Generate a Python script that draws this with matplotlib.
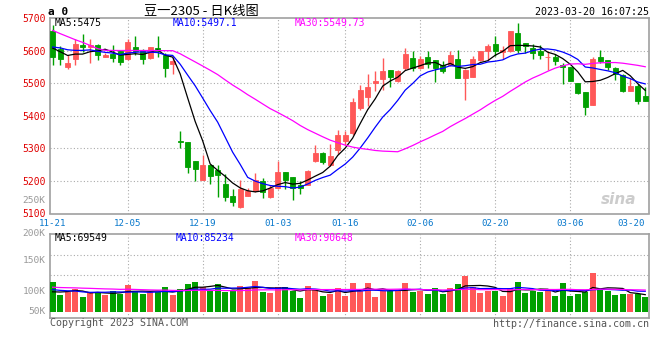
import matplotlib
matplotlib.use('Agg')
import matplotlib.pyplot as plt
import pandas as pd

# daily K line, 豆一2305, 11-21 .. 03-20
tick_dates = ['11-21', '12-05', '12-19', '01-03', '01-16', '02-06', '02-20', '03-06', '03-20']
tick_idx = [0, 10, 20, 30, 39, 49, 59, 69, 79]

open_ = [5661, 5605, 5550, 5575, 5616, 5611, 5616, 5581, 5589, 5598,
         5575, 5611, 5598, 5577, 5608, 5585, 5560, 5323, 5320, 5260,
         5204, 5250, 5235, 5192, 5155, 5119, 5155, 5170, 5199, 5150,
         5178, 5227, 5211, 5188, 5188, 5260, 5286, 5248, 5296, 5323,
         5347, 5424, 5458, 5501, 5513, 5539, 5506, 5547, 5577, 5547,
         5580, 5570, 5557, 5557, 5574, 5516, 5519, 5572, 5598, 5620,
         5595, 5598, 5654, 5623, 5608, 5600, 5579, 5579, 5555, 5550,
         5500, 5473, 5432, 5579, 5570, 5547, 5524, 5477, 5490, 5460]
close = [5579, 5574, 5562, 5621, 5610, 5616, 5587, 5587, 5577, 5564,
         5626, 5598, 5575, 5611, 5598, 5547, 5569, 5318, 5242, 5237,
         5250, 5214, 5219, 5151, 5134, 5175, 5170, 5202, 5166, 5178,
         5227, 5202, 5178, 5178, 5229, 5286, 5258, 5275, 5342, 5342,
         5441, 5480, 5488, 5508, 5538, 5519, 5538, 5590, 5547, 5574,
         5560, 5547, 5536, 5587, 5516, 5541, 5574, 5598, 5615, 5600,
         5601, 5661, 5603, 5613, 5593, 5585, 5581, 5569, 5549, 5506,
         5470, 5427, 5574, 5567, 5550, 5528, 5477, 5492, 5446, 5446]
high = [5677, 5613, 5585, 5637, 5651, 5637, 5620, 5592, 5616, 5603,
        5637, 5644, 5606, 5611, 5644, 5593, 5579, 5352, 5320, 5260,
        5281, 5250, 5250, 5222, 5175, 5202, 5178, 5224, 5209, 5188,
        5262, 5227, 5211, 5199, 5235, 5311, 5288, 5313, 5355, 5354,
        5454, 5495, 5528, 5536, 5577, 5539, 5541, 5608, 5600, 5582,
        5598, 5570, 5567, 5600, 5603, 5544, 5584, 5600, 5620, 5644,
        5613, 5661, 5685, 5623, 5620, 5616, 5598, 5590, 5562, 5550,
        5500, 5473, 5580, 5601, 5570, 5549, 5528, 5516, 5497, 5487]
low = [5557, 5557, 5545, 5557, 5596, 5562, 5572, 5579, 5565, 5555,
       5572, 5587, 5560, 5575, 5579, 5519, 5528, 5301, 5224, 5199,
       5202, 5192, 5151, 5137, 5124, 5117, 5153, 5166, 5148, 5148,
       5176, 5176, 5142, 5161, 5186, 5258, 5253, 5245, 5283, 5311,
       5342, 5419, 5429, 5477, 5480, 5487, 5504, 5541, 5536, 5545,
       5547, 5503, 5531, 5554, 5516, 5449, 5518, 5569, 5569, 5582,
       5575, 5596, 5593, 5593, 5575, 5575, 5541, 5555, 5498, 5506,
       5467, 5403, 5432, 5562, 5541, 5511, 5472, 5477, 5436, 5446]
# volume in thousands of lots
volume = [122, 70, 80, 95, 63, 83, 80, 69, 87, 73,
          112, 83, 73, 83, 80, 104, 70, 95, 116, 125,
          104, 87, 116, 80, 87, 108, 98, 129, 83, 78,
          104, 104, 87, 57, 108, 95, 66, 73, 99, 66,
          120, 87, 120, 62, 87, 87, 87, 120, 80, 87,
          74, 99, 74, 99, 116, 150, 104, 78, 87, 87,
          66, 99, 125, 78, 87, 83, 95, 66, 120, 66,
          74, 83, 162, 91, 87, 70, 74, 74, 74, 62]

# days before 11-21 (off the chart), guessed from where the MA lines start
prior_close = [5870, 5840, 5900, 5860, 5900, 5880, 5740, 5590, 5570, 5620,
               5600, 5580, 5610, 5600, 5560, 5570, 5600, 5620, 5610, 5630,
               5600, 5620, 5640, 5610, 5600, 5630, 5620, 5600, 5610]
prior_vol = [110, 104, 112, 100, 108, 115, 102, 106, 111, 98,
             109, 104, 113, 101, 107, 105, 110, 103, 108, 114,
             102, 98, 104, 100, 102, 75, 70, 72, 75]

RED = '#ff5858'
GREEN = '#00a000'
GRID = '#aaaaaa'
MONO = 'DejaVu Sans Mono'

n = len(close)
x = list(range(n))
np_ = len(prior_close)
cs = pd.Series(prior_close + close)
vs = pd.Series(prior_vol + volume)
ma = {k: cs.rolling(k).mean().iloc[np_:].values for k in (5, 10, 30)}
vma = {k: vs.rolling(k).mean().iloc[np_:].values for k in (5, 10, 30)}

up = [c >= o for o, c in zip(open_, close)]
colors = [RED if u else GREEN for u in up]

fig = plt.figure(figsize=(6.6, 3.6), dpi=100)
ax = fig.add_axes([50 / 660, 146.5 / 360, 599 / 660, 195.5 / 360])
axv = fig.add_axes([50 / 660, 42 / 360, 599 / 660, 84 / 360])

# candles
ax.vlines(x, low, high, colors=colors, linewidth=1, zorder=3)
body_lo = [min(o, c) for o, c in zip(open_, close)]
body_h = [abs(c - o) for o, c in zip(open_, close)]
ax.bar(x, body_h, bottom=body_lo, width=0.7, color=colors, edgecolor=colors,
       linewidth=0.6, zorder=4)
ax.plot(x, ma[5], color='black', lw=0.9, zorder=5)
ax.plot(x, ma[10], color='#0000ff', lw=0.9, zorder=5)
ax.plot(x, ma[30], color='#ff00ff', lw=0.9, zorder=5)

ax.set_xlim(-0.35, 79.5)
ax.set_ylim(5100, 5700)
ax.set_yticks([5100, 5200, 5300, 5400, 5500, 5600, 5700])
ax.set_yticklabels(['5100', '5200', '5300', '5400', '5500', '5600', '5700'],
                   color='#e00000', fontsize=7, family=MONO)
for yv in [5200, 5300, 5400, 5500, 5600]:
    ax.axhline(yv, color=GRID, lw=0.8, ls=(0, (1, 2)), zorder=1)
ax.set_xticks(tick_idx)
ax.set_xticklabels(tick_dates, color='#0878cc', fontsize=6.6, family=MONO)
ax.get_xticklabels()[-1].set_ha('right')
ax.tick_params(axis='x', length=0, pad=3.8)
ax.tick_params(axis='y', length=0, pad=3)

axv.bar(x, volume, width=0.8, color=colors, zorder=3)
axv.plot(x, vma[5], color='black', lw=0.9, zorder=4)
axv.plot(x, vma[10], color='#0000ff', lw=0.9, zorder=4)
axv.plot(x, vma[30], color='#ff00ff', lw=0.9, zorder=4)
axv.set_xlim(-0.35, 79.5)
axv.set_ylim(-27, 325)
axv.set_xticks([])
axv.set_yticks([])
for yv in [152, 236]:
    axv.axhline(yv, color=GRID, lw=0.8, ls=(0, (1, 2)), zorder=1)

for a in (ax, axv):
    for xi in tick_idx[1:-1]:
        a.axvline(xi, color=GRID, lw=0.8, ls=(0, (1, 2)), zorder=1)
    for s in a.spines.values():
        s.set_color('#a0a0a0')
        s.set_linewidth(1.2)

# volume axis labels as drawn by sina
for lab, yf in [('200K', 1.0), ('150K', 0.679), ('100K', 0.321), ('50K', 0.083)]:
    axv.text(-0.007, yf, lab, transform=axv.transAxes, ha='right', va='center',
             color='#999999', fontsize=6.8, family=MONO)
ax.text(-0.007, 0.069, '250K', transform=ax.transAxes, ha='right', va='center',
        color='#999999', fontsize=6.8, family=MONO)

# MA captions
ax.text(0.008, 0.974, 'MA5:5475', transform=ax.transAxes, va='center',
        color='black', fontsize=7, family=MONO)
ax.text(0.205, 0.974, 'MA10:5497.1', transform=ax.transAxes, va='center',
        color='#0000ff', fontsize=7, family=MONO)
ax.text(0.409, 0.974, 'MA30:5549.73', transform=ax.transAxes, va='center',
        color='#ff00ff', fontsize=7, family=MONO)
axv.text(0.008, 0.949, 'MA5:69549', transform=axv.transAxes, va='center',
         color='black', fontsize=7, family=MONO)
axv.text(0.209, 0.949, 'MA10:85234', transform=axv.transAxes, va='center',
         color='#0000ff', fontsize=7, family=MONO)
axv.text(0.409, 0.949, 'MA30:90648', transform=axv.transAxes, va='center',
         color='#ff00ff', fontsize=7, family=MONO)

ax.text(0.95, 0.07, 'sina', transform=ax.transAxes, ha='center', va='center',
        color='#cccccc', fontsize=11, weight='bold', style='italic', zorder=2)

# header / footer
fig.text(48 / 660, 1 - 12 / 360, 'a 0', ha='left', va='center',
         fontsize=8, weight='bold', family=MONO)
fig.text(201 / 660, 1 - 12 / 360, '豆一2305 - 日K线图', ha='center', va='center',
         fontsize=9.5, family=['Noto Sans CJK SC', 'DejaVu Sans'])
fig.text(649 / 660, 1 - 12 / 360, '2023-03-20 16:07:25', ha='right', va='center',
         fontsize=7.2, family=MONO)
fig.text(50 / 660, 1 - 323.5 / 360, 'Copyright 2023 SINA.COM', ha='left', va='center',
         fontsize=7.2, color='#555555', family=MONO)
fig.text(649 / 660, 1 - 324 / 360, 'http://finance.sina.com.cn', ha='right', va='center',
         fontsize=7.2, color='#555555', family=MONO)

fig.savefig('out.png', dpi=100, facecolor='white')
